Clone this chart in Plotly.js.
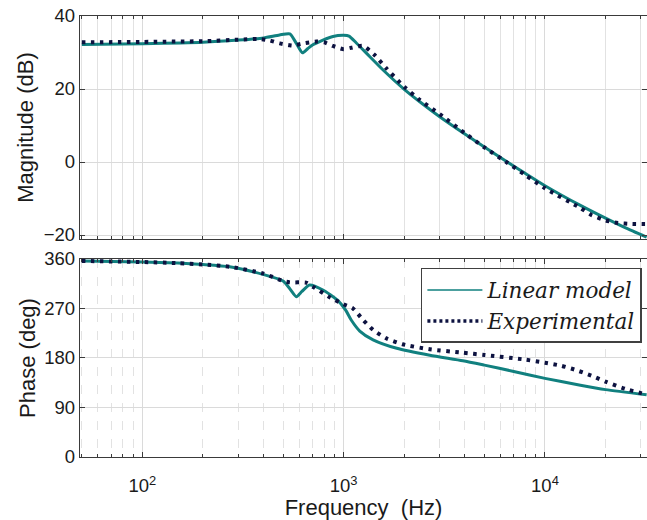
<!DOCTYPE html>
<html>
<head>
<meta charset="utf-8">
<script src="https://cdn.plot.ly/plotly-3.0.1.min.js"></script>
<style>html,body{margin:0;padding:0;background:#fff;}#chart{width:647px;height:520px;}</style>
</head>
<body>
<div id="chart"></div>
<script>
// ---- data ----
const freqMagLin = [50, 100, 200, 300, 400, 480, 540, 582, 624, 664, 703, 789, 885, 1000, 1063, 1156, 1346, 1570, 2000, 2388, 3000, 4000, 5000, 6500, 8000, 10000, 15000, 20000, 25000, 32000];
const magLin     = [32.2, 32.4, 32.8, 33.4, 34.0, 34.8, 35.1, 32.5, 29.9, 31.1, 32.1, 33.4, 34.4, 34.7, 34.5, 32.6, 28.9, 25.2, 19.9, 16.5, 12.4, 7.65, 4.1, 0.0, -3.15, -6.5, -11.9, -15.4, -18.0, -20.6];

const freqMagExp = [50, 100, 200, 300, 380, 428, 481, 538, 560, 645, 733, 800, 885, 1000, 1090, 1250, 1425, 1627, 2000, 2388, 3000, 4000, 5000, 6500, 8000, 10000, 15000, 17000, 20000, 23000, 27000, 32000];
const magExp     = [32.8, 32.9, 33.1, 33.5, 33.7, 33.3, 32.5, 32.0, 31.9, 32.6, 33.0, 32.8, 31.8, 30.9, 31.3, 31.8, 29.3, 25.7, 20.6, 17.0, 13.1, 7.9, 4.0, -0.2, -3.6, -7.2, -12.6, -14.5, -16.0, -16.7, -16.95, -17.0];

const freqPhLin = [50, 100, 150, 200, 271, 397, 500, 540, 582, 620, 677, 789, 929, 1023, 1090, 1202, 1400, 1835, 2680, 3910, 5000, 7000, 10000, 15000, 20000, 32000];
const phLin     = [356.5, 354.5, 352.5, 350, 346, 332, 320, 306, 291.5, 301, 312.7, 303.6, 285.5, 267, 249, 229, 213, 197.6, 185, 175, 167, 155.5, 143, 130.5, 122.5, 113];

const freqPhExp = [50, 100, 150, 200, 271, 397, 500, 540, 650, 703, 860, 1000, 1110, 1250, 1400, 1627, 1960, 2680, 3910, 5000, 7770, 10000, 12000, 14000, 17000, 20000, 25000, 32000];
const phExp     = [356.5, 354.5, 352.5, 350, 346, 333.8, 320, 317.5, 317, 309.6, 289.7, 277.6, 270.4, 249, 231, 215.8, 205, 195.8, 189.7, 185.5, 177.6, 171.5, 166, 159, 148, 137, 124, 113.5];

const seriesNames = ['Linear model', 'Experimental'];
const xTickVals = [100, 1000, 10000];
const xTickText = ['10<sup>2</sup>', '10<sup>3</sup>', '10<sup>4</sup>'];
const magTickVals = [-20, 0, 20, 40];
const phTickVals = [0, 90, 180, 270, 360];

// ---- styles ----
const teal = '#11807f';
const navy = '#0d1240';
const gridCol = '#dadada';
const frameCol = '#3a3a3a';
const tickFont = {family: 'Liberation Sans, Arial, sans-serif', size: 18.5, color: '#1a1a1a'};
const titleFont = {family: 'Liberation Sans, Arial, sans-serif', size: 22, color: '#1a1a1a'};

const linLine = {color: teal, width: 3, shape: 'spline', smoothing: 0.6};
const expLine = {color: navy, width: 4, dash: '3.5px,5.5px', shape: 'spline', smoothing: 0.6};

const traces = [
  {x: freqMagLin, y: magLin, xaxis: 'x', yaxis: 'y', mode: 'lines', line: linLine, showlegend: false},
  {x: freqMagExp, y: magExp, xaxis: 'x', yaxis: 'y', mode: 'lines', line: expLine, showlegend: false},
  {x: freqPhLin, y: phLin, xaxis: 'x2', yaxis: 'y2', mode: 'lines', line: linLine, showlegend: false},
  {x: freqPhExp, y: phExp, xaxis: 'x2', yaxis: 'y2', mode: 'lines', line: expLine, showlegend: false},
  // legend entries (thin sample lines as in the reference legend)
  {x: [null], y: [null], xaxis: 'x2', yaxis: 'y2', mode: 'lines', name: seriesNames[0], line: {color: teal, width: 1.5}},
  {x: [null], y: [null], xaxis: 'x2', yaxis: 'y2', mode: 'lines', name: seriesNames[1], line: {color: navy, width: 3.5, dash: '3px,3px'}}
];

const xRange = [1.69, 4.507];
function xAxis(showLabels, anchor, minorDash) {
  return {
    type: 'log', range: xRange, anchor: anchor,
    tickvals: xTickVals, ticktext: showLabels ? xTickText : ['', '', ''],
    showticklabels: showLabels, ticklabelstandoff: 12,
    ticks: 'inside', ticklen: 5, tickcolor: frameCol, tickwidth: 1,
    showgrid: true, gridcolor: gridCol, gridwidth: 1,
    minor: {dtick: 'D1', ticks: 'inside', ticklen: 3, tickcolor: frameCol, showgrid: true, gridcolor: '#e2e2e2', griddash: minorDash},
    showline: true, linecolor: frameCol, linewidth: 1.2, mirror: 'ticks',
    zeroline: false, tickfont: tickFont
  };
}

const layout = {
  width: 647, height: 520,
  margin: {l: 80, r: 0, t: 16, b: 63},
  paper_bgcolor: '#ffffff', plot_bgcolor: '#ffffff',
  showlegend: true,
  legend: {
    x: 0.991, xanchor: 'right', y: 0.4286, yanchor: 'top',
    bgcolor: '#ffffff', bordercolor: '#404040', borderwidth: 1.5,
    font: {family: 'DejaVu Serif, serif', size: 21.5, color: '#1a1a1a', style: 'italic'},
    itemwidth: 55, tracegroupgap: 0
  },
  xaxis: xAxis(false, 'y', 'solid'),
  yaxis: {
    domain: [0.4943, 1], range: [-21.1, 40], anchor: 'x',
    tickvals: magTickVals, ticks: 'inside', ticklen: 5, tickcolor: frameCol,
    showgrid: true, gridcolor: gridCol,
    showline: true, linecolor: frameCol, linewidth: 1.2, mirror: 'ticks',
    zeroline: false, tickfont: tickFont,
    title: {text: 'Magnitude (dB)', font: titleFont, standoff: 4}
  },
  xaxis2: Object.assign(xAxis(true, 'y2', 'dash'), {
    title: {text: 'Frequency  (Hz)', font: titleFont, standoff: 4}
  }),
  yaxis2: {
    domain: [0, 0.449], range: [0, 360], anchor: 'x2',
    tickvals: phTickVals, ticks: 'inside', ticklen: 5, tickcolor: frameCol,
    showgrid: true, gridcolor: gridCol,
    showline: true, linecolor: frameCol, linewidth: 1.2, mirror: 'ticks',
    zeroline: false, tickfont: tickFont,
    title: {text: 'Phase (deg)', font: titleFont, standoff: 2}
  }
};

Plotly.newPlot('chart', traces, layout, {displayModeBar: false, staticPlot: true});
</script>
</body>
</html>
